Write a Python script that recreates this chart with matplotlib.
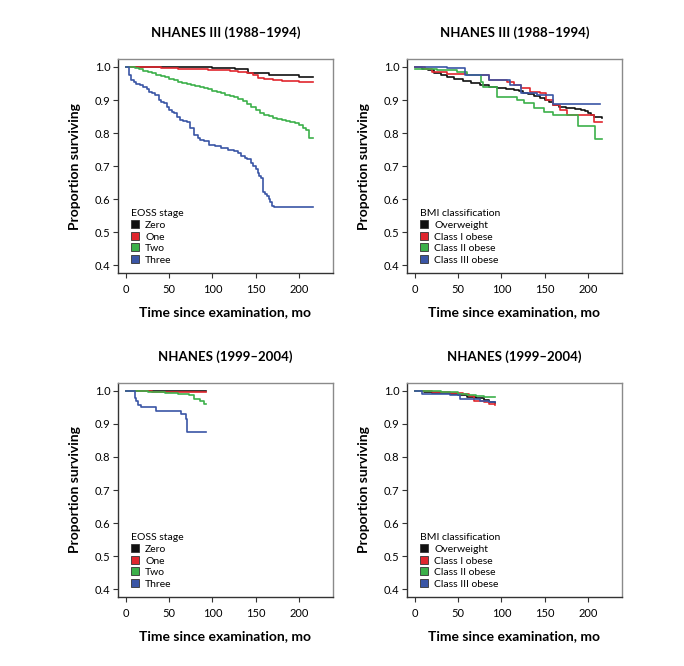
import matplotlib
matplotlib.use("Agg")
import matplotlib.pyplot as plt
from matplotlib.lines import Line2D

plt.rcParams['font.family'] = ['Lato', 'DejaVu Sans']

# colours of the four groups
colors = ["#111111", "#e0262e", "#3cb04a", "#3a55a5"]

eoss_labels = ["Zero", "One", "Two", "Three"]
bmi_labels = ["Overweight", "Class I obese", "Class II obese", "Class III obese"]

# NHANES III (1988-1994), EOSS stage
iii_eoss_t = [
    [0, 60, 100, 126, 141, 165, 200, 216],
    [0, 20, 40, 60, 80, 95, 110, 120, 130, 140, 147, 152, 160, 170, 180, 190, 200, 216],
    [0, 5, 10, 15, 20, 25, 30, 35, 40, 45, 50, 55, 60, 65, 70, 75, 80, 85, 90, 95,
     100, 105, 110, 115, 120, 125, 130, 135, 140, 145, 150, 155, 160, 165, 170, 175,
     180, 185, 190, 195, 200, 205, 208, 211, 216],
    [0, 3, 6, 9, 12, 16, 20, 24, 27, 30, 33, 38, 41, 44, 47, 50, 53, 56, 59, 62, 66, 70,
     74, 79, 83, 86, 90, 96, 103, 110, 118, 125, 130, 133, 137, 140, 144, 147, 150, 152,
     154, 156, 158, 161, 163, 165, 167, 169, 171, 216],
]
iii_eoss_s = [
    [1.0, 0.999, 0.998, 0.994, 0.983, 0.977, 0.97, 0.97],
    [1.0, 0.999, 0.997, 0.995, 0.994, 0.992, 0.99, 0.988, 0.986, 0.982, 0.976, 0.968,
     0.965, 0.962, 0.959, 0.957, 0.955, 0.955],
    [1.0, 0.999, 0.997, 0.993, 0.989, 0.985, 0.981, 0.977, 0.973, 0.969, 0.965, 0.96,
     0.956, 0.952, 0.949, 0.946, 0.943, 0.94, 0.936, 0.932, 0.928, 0.924, 0.92, 0.916,
     0.912, 0.908, 0.903, 0.897, 0.888, 0.879, 0.87, 0.862, 0.856, 0.851, 0.846, 0.842,
     0.839, 0.836, 0.833, 0.829, 0.823, 0.815, 0.81, 0.785, 0.785],
    [1.0, 0.975, 0.96, 0.955, 0.95, 0.945, 0.94, 0.932, 0.925, 0.92, 0.915, 0.9, 0.895,
     0.89, 0.88, 0.87, 0.865, 0.86, 0.85, 0.84, 0.835, 0.833, 0.815, 0.795, 0.785, 0.78,
     0.775, 0.764, 0.76, 0.755, 0.75, 0.745, 0.74, 0.73, 0.725, 0.72, 0.71, 0.7, 0.69,
     0.68, 0.67, 0.665, 0.62, 0.615, 0.61, 0.6, 0.59, 0.58, 0.575, 0.575],
]

# NHANES III (1988-1994), BMI classification
iii_bmi_t = [
    [0, 8, 15, 22, 30, 37, 45, 55, 65, 75, 85, 95, 105, 114, 120, 125, 131, 137, 144,
     150, 155, 160, 167, 175, 185, 192, 197, 200, 204, 207, 216],
    [0, 12, 20, 37, 60, 75, 86, 106, 115, 122, 133, 145, 152, 160, 168, 176, 207, 216],
    [0, 10, 25, 49, 60, 76, 79, 95, 118, 126, 137, 149, 160, 188, 208, 216],
    [0, 37, 58, 86, 110, 122, 141, 160, 214],
]
iii_bmi_s = [
    [1.0, 0.995, 0.99, 0.983, 0.977, 0.971, 0.965, 0.958, 0.951, 0.945, 0.94, 0.935,
     0.932, 0.93, 0.926, 0.922, 0.918, 0.913, 0.906, 0.9, 0.893, 0.885, 0.879, 0.875,
     0.872, 0.87, 0.866, 0.862, 0.856, 0.85, 0.845],
    [1.0, 0.993, 0.985, 0.98, 0.975, 0.975, 0.96, 0.955, 0.945, 0.935, 0.925, 0.92,
     0.9, 0.885, 0.87, 0.855, 0.834, 0.834],
    [0.995, 0.993, 0.99, 0.986, 0.975, 0.955, 0.94, 0.91, 0.9, 0.89, 0.875, 0.865,
     0.855, 0.82, 0.782, 0.782],
    [1.0, 0.997, 0.975, 0.96, 0.945, 0.92, 0.915, 0.887, 0.887],
]

# NHANES (1999-2004), EOSS stage
n99_eoss_t = [
    [0, 40, 92],
    [0, 30, 60, 92],
    [0, 25, 45, 60, 73, 79, 85, 90, 93],
    [0, 10.5, 12, 14, 17, 34.5, 37.5, 63.5, 69, 71, 92.5],
]
n99_eoss_s = [
    [1.0, 0.999, 0.999],
    [1.0, 0.998, 0.997, 0.997],
    [1.0, 0.998, 0.995, 0.99, 0.988, 0.977, 0.97, 0.96, 0.96],
    [1.0, 0.98, 0.97, 0.957, 0.95, 0.938, 0.938, 0.93, 0.914, 0.877, 0.877],
]

# NHANES (1999-2004), BMI classification
n99_bmi_t = [
    [0, 10, 20, 30, 40, 50, 60, 70, 80, 85, 92],
    [0, 20, 40, 55, 62, 68, 80, 85, 92],
    [0, 30, 50, 60, 70, 80, 93],
    [0, 8, 40, 52, 65, 75, 85, 92],
]
n99_bmi_s = [
    [1.0, 0.998, 0.995, 0.993, 0.99, 0.987, 0.983, 0.978, 0.972, 0.968, 0.963],
    [1.0, 0.997, 0.994, 0.99, 0.985, 0.97, 0.965, 0.96, 0.958],
    [1.0, 0.996, 0.992, 0.988, 0.985, 0.983, 0.982],
    [1.0, 0.99, 0.988, 0.976, 0.975, 0.97, 0.968, 0.968],
]

panels = [
    ("NHANES III (1988\u20131994)", iii_eoss_t, iii_eoss_s, "EOSS stage", eoss_labels, [0.1725, 0.590]),
    ("NHANES III (1988\u20131994)", iii_bmi_t, iii_bmi_s, "BMI classification", bmi_labels, [0.595, 0.590]),
    ("NHANES (1999\u20132004)", n99_eoss_t, n99_eoss_s, "EOSS stage", eoss_labels, [0.1725, 0.1036]),
    ("NHANES (1999\u20132004)", n99_bmi_t, n99_bmi_s, "BMI classification", bmi_labels, [0.595, 0.1036]),
]

fig = plt.figure(figsize=(6.84, 6.66), dpi=100)

for title, ts, ss, leg_title, labels, pos in panels:
    ax = fig.add_axes([pos[0], pos[1], 0.3143, 0.3213])
    for t, s, col in zip(ts, ss, colors):
        ax.plot(t, s, drawstyle="steps-post", color=col, lw=1.2)
    ax.set_xlim(-9.2, 239.2)
    ax.set_ylim(0.376, 1.024)
    ax.set_xticks([0, 50, 100, 150, 200])
    ax.set_yticks([0.4, 0.5, 0.6, 0.7, 0.8, 0.9, 1.0])
    ax.set_yticklabels(["0.4", "0.5", "0.6", "0.7", "0.8", "0.9", "1.0"])
    ax.tick_params(labelsize=8, length=3.5, width=0.8, color="#333333", pad=2)
    ax.tick_params(axis="x", pad=4.5)
    for side in ["top", "right"]:
        ax.spines[side].set_color("#8a8a8a")
        ax.spines[side].set_linewidth(1.0)
    for side in ["left", "bottom"]:
        ax.spines[side].set_color("#333333")
        ax.spines[side].set_linewidth(1.0)
    ax.set_title(title, fontsize=9.5, fontweight="bold", pad=16)
    ax.set_xlabel("Time since examination, mo", fontsize=10, fontweight="bold", labelpad=8)
    ax.set_ylabel("Proportion surviving", fontsize=10, fontweight="bold", labelpad=10)

    handles = [Line2D([], [], ls="none", marker="s", markersize=5.5,
                      markerfacecolor=c, markeredgecolor="#333333", markeredgewidth=0.6)
               for c in colors]
    leg = ax.legend(handles, labels, title=leg_title, loc="lower left",
                    bbox_to_anchor=(0.02, 0.0), frameon=False, fontsize=7.5,
                    title_fontsize=7.5, handlelength=0.8, handletextpad=0.6,
                    labelspacing=0.22, borderpad=0.3)
    leg._legend_box.align = "left"

fig.savefig("out.png", dpi=100)
